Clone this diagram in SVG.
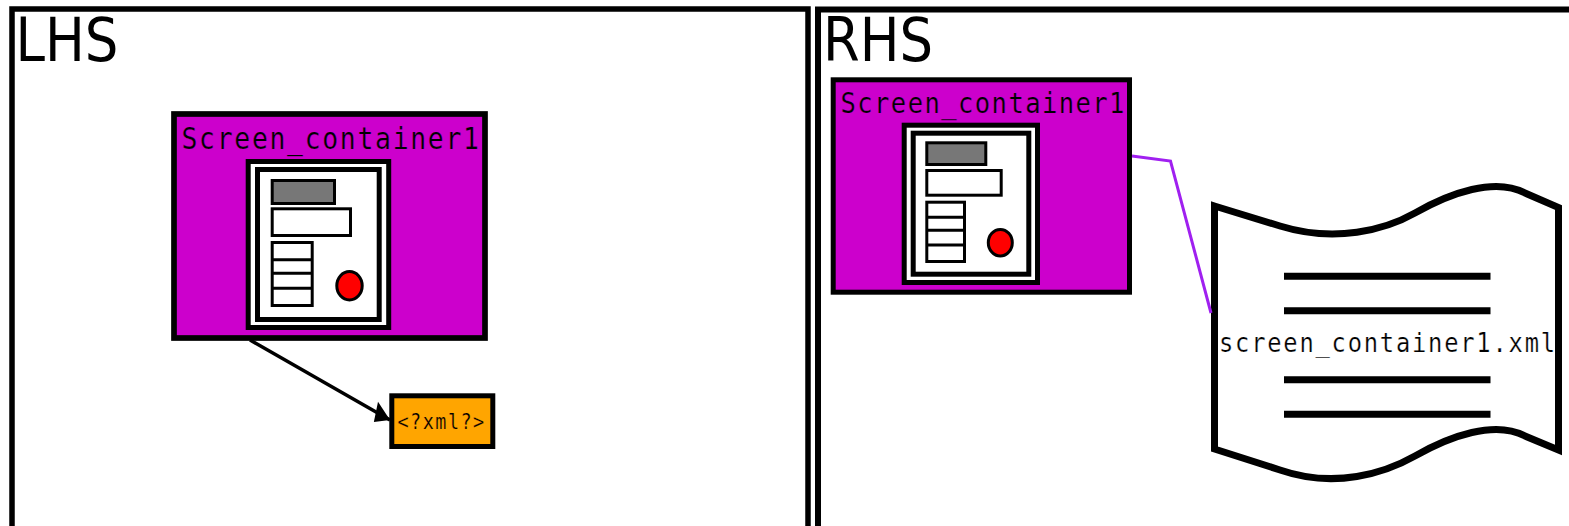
<svg xmlns="http://www.w3.org/2000/svg" width="1569" height="526" viewBox="0 0 1569 526">
<style>
.panel{fill:#fff;stroke:#000;stroke-width:5.5}
.cont{fill:#cc00cc;stroke:#000;stroke-width:5.7}
.frame{fill:#fff;stroke:#000;stroke-width:5}
.w{fill:#fff;stroke:#000;stroke-width:3}
.g{fill:#777;stroke:#000;stroke-width:3}
.dot{fill:#f00;stroke:#000;stroke-width:3}
.l{fill:none;stroke:#000;stroke-width:3}
.dl{stroke:#000;stroke-width:7}
.big{font-family:"DejaVu Sans",sans-serif;font-size:61px;fill:#000}
.mono{font-family:"DejaVu Sans Mono",monospace;fill:#000;stroke-width:.25}
</style>
<defs>
<marker id="arr" markerUnits="userSpaceOnUse" markerWidth="24" markerHeight="24" refX="21" refY="11" orient="auto"><path d="M21 11L1.6 1.2L8 20.8Z" fill="#000"/></marker>
</defs>
<g id="lhs">
<rect class="panel" x="12" y="9" width="796" height="530"/>
<text class="big" x="15.5" y="61" textLength="103" lengthAdjust="spacingAndGlyphs">LHS</text>
</g>
<g id="rhs">
<rect class="panel" x="818" y="9.5" width="800" height="530" style="stroke-width:6"/>
<text class="big" x="823" y="61" textLength="110" lengthAdjust="spacingAndGlyphs">RHS</text>
</g>
<g id="screen-left">
<rect class="cont" x="174" y="114" width="311" height="224"/>
<text class="mono" stroke="#cc00cc" transform="translate(181.5 149) scale(.88 1)" font-size="30" letter-spacing="1.94">Screen_container1</text>
<rect class="frame" x="248.2" y="161.5" width="140.5" height="166"/>
<rect class="frame" x="257.5" y="169.5" width="121.7" height="150"/>
<rect class="g" x="272.2" y="180.5" width="62.3" height="23"/>
<rect class="w" x="272.2" y="208.8" width="78.3" height="26.7"/>
<rect class="w" x="272.2" y="242.5" width="40" height="63"/>
<path class="l" d="M272 259.7H312M272 273.3H312M272 288.3H312"/>
<ellipse class="dot" cx="349.5" cy="285.7" rx="12.7" ry="14.2"/>
</g>
<g id="xml-box">
<rect x="391.8" y="395.8" width="101" height="50.7" fill="#ffa500" stroke="#000" stroke-width="5"/>
<text class="mono" stroke="#ffa500" transform="translate(397.5 428.5) scale(.88 1)" font-size="21" letter-spacing="1.68">&lt;?xml?&gt;</text>
</g>
<g id="screen-right">
<rect class="cont" x="833.2" y="79.8" width="296.3" height="212.4" style="stroke-width:5"/>
<text class="mono" stroke="#cc00cc" transform="translate(840.5 113) scale(.88 1)" font-size="29" letter-spacing="1.63">Screen_container1</text>
<rect class="frame" x="904.2" y="125.2" width="133.3" height="157.3"/>
<rect class="frame" x="913.2" y="133.2" width="115.6" height="141"/>
<rect class="g" x="926.8" y="142.8" width="59" height="21.7"/>
<rect class="w" x="926.8" y="170.5" width="74.4" height="24.7"/>
<rect class="w" x="926.8" y="202.2" width="37.7" height="59.3"/>
<path class="l" d="M926 217.3H965M926 230.3H965M926 245H965"/>
<ellipse class="dot" cx="1000.3" cy="242.7" rx="12" ry="13.3"/>
</g>
<g id="document">
<path d="M1214.5 206L1280 226C1335 243 1385 230 1415 213C1450 193 1495 177 1525 193L1558.5 207.5V450L1525 436C1495 420 1450 436 1415 456C1385 473 1335 489 1280 470L1214.5 449Z" fill="#fff" stroke="#000" stroke-width="7" stroke-linejoin="miter"/>
<path class="dl" d="M1284 276.3H1490.5M1284 310.7H1490.5M1284 379.7H1490.5M1284 414.3H1490.5"/>
<text class="mono" stroke="#fff" transform="translate(1219 352.3) scale(.88 1)" font-size="27" letter-spacing="2.03">screen_container1.xml</text>
</g>
<g id="connectors">
<path d="M250 340L390 420" fill="none" stroke="#000" stroke-width="3.5" marker-end="url(#arr)"/>
<path d="M1132 156L1170.5 161L1211 313" fill="none" stroke="#a020f0" stroke-width="3"/>
</g>
</svg>
